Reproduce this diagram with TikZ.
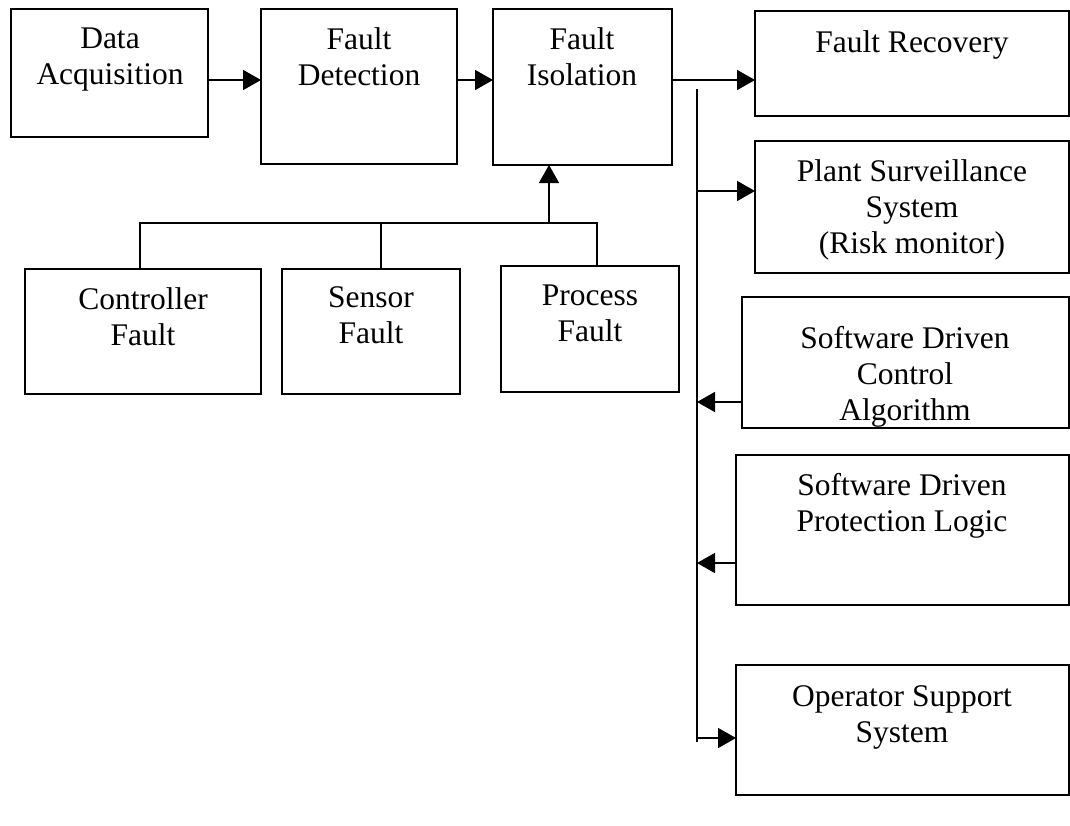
\documentclass[tikz,border=0pt]{standalone}
\usepackage{fontspec}
\setmainfont{Liberation Serif}
\usetikzlibrary{arrows.meta}

% rectangular block given by its corners (x1,y1) and (x2,y2)
\newcommand{\blk}[5]{%
  \node[box, minimum width={#4-#2}, minimum height={#5-#3}] (#1)
    at ({(#2+#4)/2},{(#3+#5)/2}) {};}

\begin{document}
\begin{tikzpicture}[x=1pt, y=-1pt,
  box/.style={draw, line width=2pt, inner sep=0pt, outer sep=0pt},
  txt/.style={anchor=north, align=center, inner sep=0pt,
              font=\fontsize{31.5}{36}\selectfont},
  wire/.style={line width=1.6pt},
  arr/.style={wire, -{Triangle[length=18pt, width=20pt]}}]

\useasboundingbox (0,0) rectangle (1070,825);

% main chain
\blk{da}{11}{9}{208}{137}
\blk{dt}{261}{9}{457}{164}
\blk{fi}{493}{9}{672}{165}
\node[txt] (da-t) at (110,28) {Data\\Acquisition};
\node[txt] (dt-t) at (359,27) {Fault\\Detection};
\node[txt] (fi-t) at (582,27) {Fault\\Isolation};

% fault sources
\blk{cf}{25}{269}{261}{394}
\blk{sf}{282}{269}{460}{394}
\blk{pf}{501}{266}{679}{392}
\node[txt] (cf-t) at (143,287) {Controller\\Fault};
\node[txt] (sf-t) at (371,286) {Sensor\\Fault};
\node[txt] (pf-t) at (590,285) {Process\\Fault};

% right-hand column
\blk{fr}{755}{11}{1069}{116}
\blk{ps}{755}{141}{1069}{273}
\blk{sc}{742}{297}{1069}{428}
\blk{sp}{736}{455}{1069}{605}
\blk{os}{736}{665}{1069}{795}
\node[txt] (fr-t) at (912,30) {Fault Recovery};
\node[txt] (ps-t) at (912,159) {Plant Surveillance\\System\\(Risk monitor)};
\node[txt] (sc-t) at (905,326) {Software Driven\\Control\\Algorithm};
\node[txt] (sp-t) at (902,473) {Software Driven\\Protection Logic};
\node[txt] (os-t) at (902,685) {Operator Support\\System};

% helper points
\coordinate (row) at (0,80);
\coordinate (bt) at (697,89);
\coordinate (bb) at (697,742);
\coordinate (k1) at (140,223);
\coordinate (k2) at (381,223);
\coordinate (k3) at (597,223);
\coordinate (hub) at (549,223);

% chain arrows
\draw[arr] (da.east |- row) -- (dt.west |- row);
\draw[arr] (dt.east |- row) -- (fi.west |- row);
\draw[arr] (fi.east |- row) -- (fr.west |- row);

% vertical bus and its branches
\draw[wire] (bt) -- (bb);
\draw[arr] (bt |- 0,191) -- (ps.west |- 0,191);
\draw[arr] (sc.west |- 0,402) -- (bt |- 0,402);
\draw[arr] (sp.west |- 0,563) -- (bt |- 0,563);
\draw[arr] (bt |- 0,738) -- (os.west |- 0,738);

% fault sources feeding isolation
\draw[wire] (k1 |- cf.north) -- (k1) -- (k3) -- (k3 |- pf.north);
\draw[wire] (k2) -- (k2 |- sf.north);
\draw[arr] (hub) -- (hub |- fi.south);

\end{tikzpicture}
\end{document}
